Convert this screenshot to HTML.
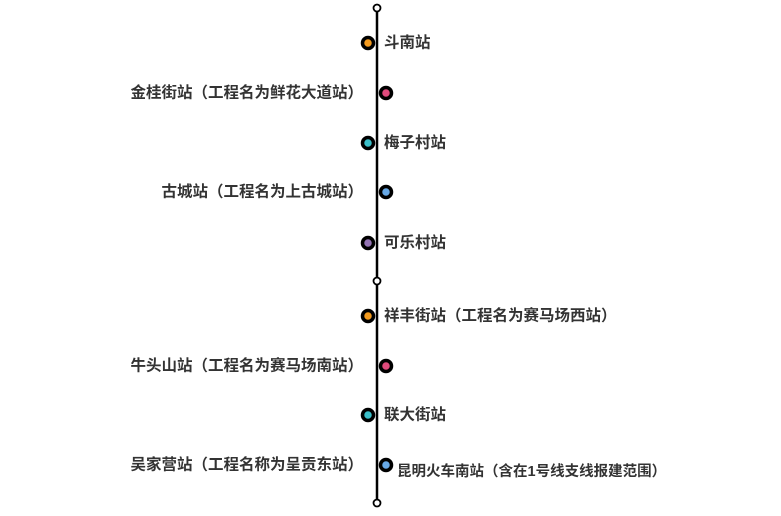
<!DOCTYPE html>
<html><head><meta charset="utf-8"><style>
body{margin:0;background:#fff;width:781px;height:511px;overflow:hidden}
text{font-family:"Liberation Sans","Noto Sans CJK SC",sans-serif;font-size:15.5px;font-weight:bold;fill:#333;dominant-baseline:central}
</style></head><body>
<svg width="781" height="511" xmlns="http://www.w3.org/2000/svg">
<line x1="377" y1="8" x2="377" y2="503" stroke="#000" stroke-width="2.5"/>
<circle cx="377" cy="8" r="3.5" fill="#fff" stroke="#000" stroke-width="1.8"/>
<circle cx="377" cy="281" r="3.5" fill="#fff" stroke="#000" stroke-width="1.8"/>
<circle cx="377" cy="503" r="3.5" fill="#fff" stroke="#000" stroke-width="1.8"/>
<g stroke="#000" stroke-width="3.5">
<circle cx="368" cy="43" r="5.5" fill="#f39a1e"/>
<circle cx="386" cy="93" r="5.5" fill="#e04a7c"/>
<circle cx="368" cy="143" r="5.5" fill="#3bbfc9"/>
<circle cx="386" cy="192" r="5.5" fill="#68a9e6"/>
<circle cx="368" cy="243" r="5.5" fill="#9373b3"/>
<circle cx="368" cy="316" r="5.5" fill="#f39a1e"/>
<circle cx="386" cy="366" r="5.5" fill="#e04a7c"/>
<circle cx="368" cy="415" r="5.5" fill="#3bbfc9"/>
<circle cx="386" cy="465" r="5.5" fill="#68a9e6"/>
</g>
<text x="384" y="43">斗南站</text>
<text x="363" y="93" text-anchor="end">金桂街站（工程名为鲜花大道站）</text>
<text x="384" y="143">梅子村站</text>
<text x="363" y="192" text-anchor="end">古城站（工程名为上古城站）</text>
<text x="384" y="243">可乐村站</text>
<text x="384" y="316">祥丰街站（工程名为赛马场西站）</text>
<text x="363" y="366" text-anchor="end">牛头山站（工程名为赛马场南站）</text>
<text x="384" y="415">联大街站</text>
<text x="363" y="465" text-anchor="end">吴家营站（工程名称为呈贡东站）</text>
<text x="397" y="472" style="font-size:14.5px">昆明火车南站（含在1号线支线报建范围）</text>
</svg>
</body></html>
